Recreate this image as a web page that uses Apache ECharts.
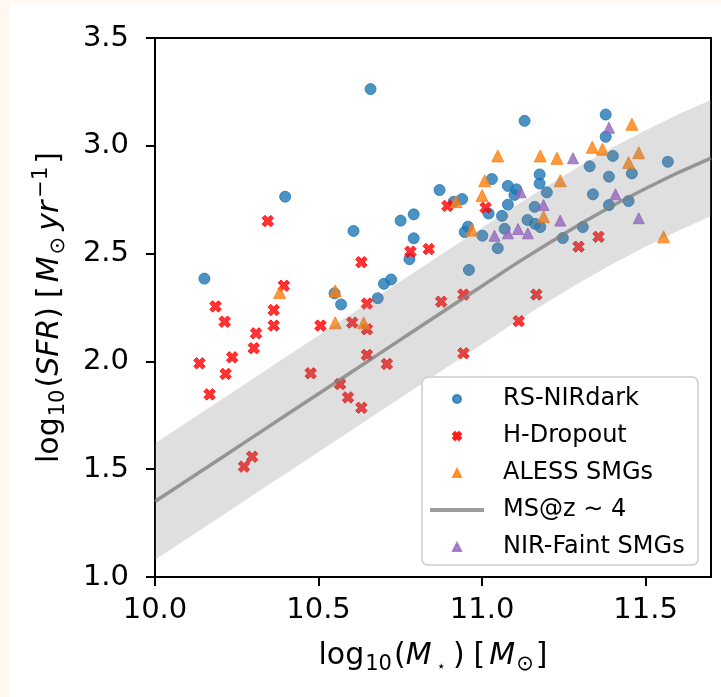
<!DOCTYPE html>
<html><head><meta charset="utf-8">
<script src="https://cdn.jsdelivr.net/npm/echarts@6/dist/echarts.min.js"></script>
<style>html,body{margin:0;padding:0;background:#fff;}#c{width:721px;height:697px;}</style>
</head><body><div id="c"></div>
<script>
// ---- data ----
const rsNIRdark = [
 [10.151,2.384],[10.659,3.263],[10.398,2.764],[10.607,2.605],[10.549,2.316],[10.569,2.264],
 [10.681,2.293],[10.700,2.360],[10.722,2.380],[10.751,2.653],[10.791,2.682],[10.791,2.571],
 [10.778,2.474],[10.870,2.795],[10.913,2.740],[10.939,2.753],[10.957,2.625],[10.947,2.600],
 [11.001,2.583],[11.020,2.686],[11.030,2.846],[11.061,2.675],[11.079,2.727],[11.079,2.814],
 [11.105,2.798],[11.099,2.772],[11.048,2.525],[10.960,2.424],[11.069,2.615],[11.130,3.116],
 [11.161,2.717],[11.139,2.656],[11.162,2.638],[11.178,2.623],[11.176,2.867],[11.176,2.825],
 [11.198,2.784],[11.247,2.572],[11.308,2.623],[11.329,2.905],[11.339,2.775],[11.378,3.145],
 [11.378,3.042],[11.400,2.953],[11.388,2.857],[11.388,2.725],[11.448,2.744],[11.458,2.872],
 [11.568,2.926]
];
const hDropout = [
 [10.136,1.991],[10.185,2.255],[10.213,2.184],[10.216,1.942],[10.167,1.847],[10.236,2.019],
 [10.272,1.512],[10.297,1.558],[10.302,2.061],[10.309,2.130],[10.345,2.651],[10.363,2.238],
 [10.363,2.166],[10.394,2.351],[10.476,1.945],[10.506,2.166],[10.566,1.895],[10.590,1.833],
 [10.603,2.180],[10.631,1.785],[10.631,2.460],[10.648,2.268],[10.648,2.149],[10.648,2.030],
 [10.709,1.988],[10.781,2.509],[10.837,2.521],[10.875,2.277],[10.894,2.721],[10.943,2.310],
 [10.943,2.038],[11.011,2.713],[11.112,2.187],[11.166,2.310],[11.295,2.532],[11.356,2.578]
];
const alessSMGs = [
 [10.381,2.319],[10.551,2.327],[10.551,2.179],[10.638,2.179],[10.921,2.741],[10.969,2.609],
 [11.000,2.769],[11.008,2.838],[11.048,2.953],[11.178,2.953],[11.188,2.671],[11.229,2.942],
 [11.239,2.838],[11.337,2.993],[11.368,2.984],[11.448,2.922],[11.458,3.100],[11.479,2.968],
 [11.555,2.578]
];
const nirFaintSMGs = [
 [11.038,2.583],[11.079,2.594],[11.110,2.614],[11.140,2.594],[11.118,2.784],[11.188,2.725],
 [11.239,2.653],[11.278,2.942],[11.388,3.084],[11.408,2.775],[11.479,2.664]
];
// main sequence curve and its band, read at 0.1 dex steps
const msMass  = [10.0,10.1,10.2,10.3,10.4,10.5,10.6,10.7,10.8,10.9,11.0,11.1,11.2,11.3,11.4,11.5,11.6,11.7];
const msSFR   = [1.35,1.45,1.55,1.65,1.75,1.85,1.95,2.05,2.15,2.25,2.35,2.45,2.545,2.637,2.723,2.802,2.876,2.943];
const msUpper = [1.62,1.72,1.82,1.92,2.02,2.12,2.22,2.32,2.42,2.52,2.62,2.72,2.815,2.907,2.993,3.072,3.146,3.213];
const msLower = [1.08,1.18,1.28,1.38,1.48,1.58,1.68,1.78,1.88,1.98,2.08,2.18,2.275,2.367,2.453,2.532,2.606,2.673];
const xTicks = [10.0,10.5,11.0,11.5];
const yTicks = [1.0,1.5,2.0,2.5,3.0,3.5];
const seriesNames = ['RS-NIRdark','H-Dropout','ALESS SMGs','MS@z ∼ 4','NIR-Faint SMGs'];

const FONT = 'DejaVu Sans';
const X_PATH = 'path://M25 0L50 25L75 0L100 25L75 50L100 75L75 100L50 75L25 100L0 75L25 50L0 25Z';
const TRI_PATH = 'path://M50 0L100 100L0 100Z';
const nameRich = {
  n: {fontFamily: FONT, fontSize: 30, color: '#000', lineHeight: 38},
  i: {fontFamily: FONT, fontSize: 30, color: '#000', fontStyle: 'italic', lineHeight: 38},
  g: {fontFamily: FONT, fontSize: 30, color: '#000', lineHeight: 38, padding: [0, 4, 0, 9]},
  s: {fontFamily: FONT, fontSize: 21, color: '#000', verticalAlign: 'bottom', lineHeight: 24, padding: [0, 2, 0, 1]},
  so: {fontFamily: FONT, fontSize: 21, color: '#000', verticalAlign: 'bottom', lineHeight: 24, padding: [0, 6, 0, 2]},
  st: {fontFamily: FONT, fontSize: 15, color: '#000', verticalAlign: 'bottom', lineHeight: 22, padding: [0, 7, 0, 5]},
  p: {fontFamily: FONT, fontSize: 21, color: '#000', verticalAlign: 'top', lineHeight: 21, padding: [0, 3, 0, 3]}
};

const chart = echarts.init(document.getElementById('c'), null, {renderer: 'canvas'});
chart.setOption({
  animation: false,
  backgroundColor: '#ffffff',
  graphic: [
    {type: 'rect', shape: {x: 0, y: 0, width: 10, height: 697}, style: {fill: '#fef8f1'}, silent: true},
    {type: 'rect', shape: {x: 0, y: 0, width: 721, height: 3}, style: {fill: '#fef8f1'}, silent: true},
    {type: 'rect', z: 20, shape: {x: 422, y: 377, width: 276, height: 188, r: 6},
     style: {fill: 'rgba(255,255,255,0.8)', stroke: '#cccccc', lineWidth: 1.5}, silent: true}
  ],
  grid: {left: 155, top: 38, width: 556, height: 539, show: true, borderColor: '#000', borderWidth: 2, backgroundColor: 'transparent', z: 0},
  legend: {
    z: 30, orient: 'vertical', left: 430, top: 387, padding: 0, itemGap: 13,
    itemWidth: 54, itemHeight: 8, selectedMode: false, symbolKeepAspect: true,
    data: [
      {name: seriesNames[0], icon: 'circle'},
      {name: seriesNames[1], icon: X_PATH},
      {name: seriesNames[2], icon: TRI_PATH},
      {name: seriesNames[3], icon: 'path://M0 0H108V8H0Z'},
      {name: seriesNames[4], icon: TRI_PATH}
    ],
    textStyle: {fontFamily: FONT, fontSize: 24, color: '#000', lineHeight: 24, padding: [0, 0, 0, 14]}
  },
  xAxis: {
    type: 'value', min: 10.0, max: 11.7,
    name: '{n|log}{s|10}{n|(}{i|M}{st|⋆}{n|)}{g|[}{i|M}{s|⊙}{n|]}',
    nameLocation: 'middle', nameGap: 60, nameTextStyle: {rich: nameRich},
    axisLine: {show: true, onZero: false, lineStyle: {color: '#000', width: 2}},
    axisTick: {show: true, length: 9, lineStyle: {color: '#000', width: 2}, customValues: xTicks},
    axisLabel: {show: true, margin: 19, fontFamily: FONT, fontSize: 29, color: '#000', customValues: xTicks,
      formatter: v => v.toFixed(1)},
    splitLine: {show: false}
  },
  yAxis: {
    type: 'value', min: 1.0, max: 3.5, interval: 0.5,
    name: '{n|log}{s|10}{n|(}{i|SFR}{n|)}{g|[}{i|M}{so|⊙}{i|yr}{p|−1}{n|]}',
    nameLocation: 'middle', nameGap: 86, nameTextStyle: {rich: nameRich},
    axisLine: {show: true, onZero: false, lineStyle: {color: '#000', width: 2}},
    axisTick: {show: true, length: 9, lineStyle: {color: '#000', width: 2}, customValues: yTicks},
    axisLabel: {show: true, margin: 26, fontFamily: FONT, fontSize: 29, color: '#000', customValues: yTicks,
      formatter: v => v.toFixed(1)},
    splitLine: {show: false}
  },
  series: [
    {name: seriesNames[0], type: 'scatter', z: 2, symbol: 'circle', symbolSize: 11,
     itemStyle: {color: '#1f77b4', borderColor: '#1f77b4', borderWidth: 1}, data: rsNIRdark},
    {name: seriesNames[1], type: 'scatter', z: 3, symbol: X_PATH, symbolSize: 11.5, symbolKeepAspect: true,
     itemStyle: {color: '#ff0000', borderColor: '#ff0000', borderWidth: 1}, data: hDropout},
    {name: seriesNames[2], type: 'scatter', z: 4, symbol: 'triangle', symbolSize: 12,
     itemStyle: {color: '#ff7f0e', borderColor: '#ff7f0e', borderWidth: 1}, data: alessSMGs},
    {name: 'band', type: 'custom', z: 5, silent: true, clip: true,
     data: [[msMass[0], msSFR[0]]],
     renderItem: function (params, api) {
       const pts = [];
       for (let i = 0; i < msMass.length; i++) pts.push(api.coord([msMass[i], msUpper[i]]));
       for (let i = msMass.length - 1; i >= 0; i--) pts.push(api.coord([msMass[i], msLower[i]]));
       return {type: 'polygon', shape: {points: pts}, style: {fill: 'rgba(128,128,128,0.25)'}};
     }},
    {name: seriesNames[3], type: 'line', z: 6, symbol: 'none', smooth: false,
     lineStyle: {color: 'rgba(128,128,128,0.78)', width: 3.5}, itemStyle: {color: 'rgba(128,128,128,0.78)'},
     data: msMass.map((m, i) => [m, msSFR[i]])},
    {name: seriesNames[4], type: 'scatter', z: 7, symbol: 'triangle', symbolSize: 11,
     itemStyle: {color: '#9467bd', borderColor: '#9467bd', borderWidth: 1}, data: nirFaintSMGs}
  ]
});
</script></body></html>
